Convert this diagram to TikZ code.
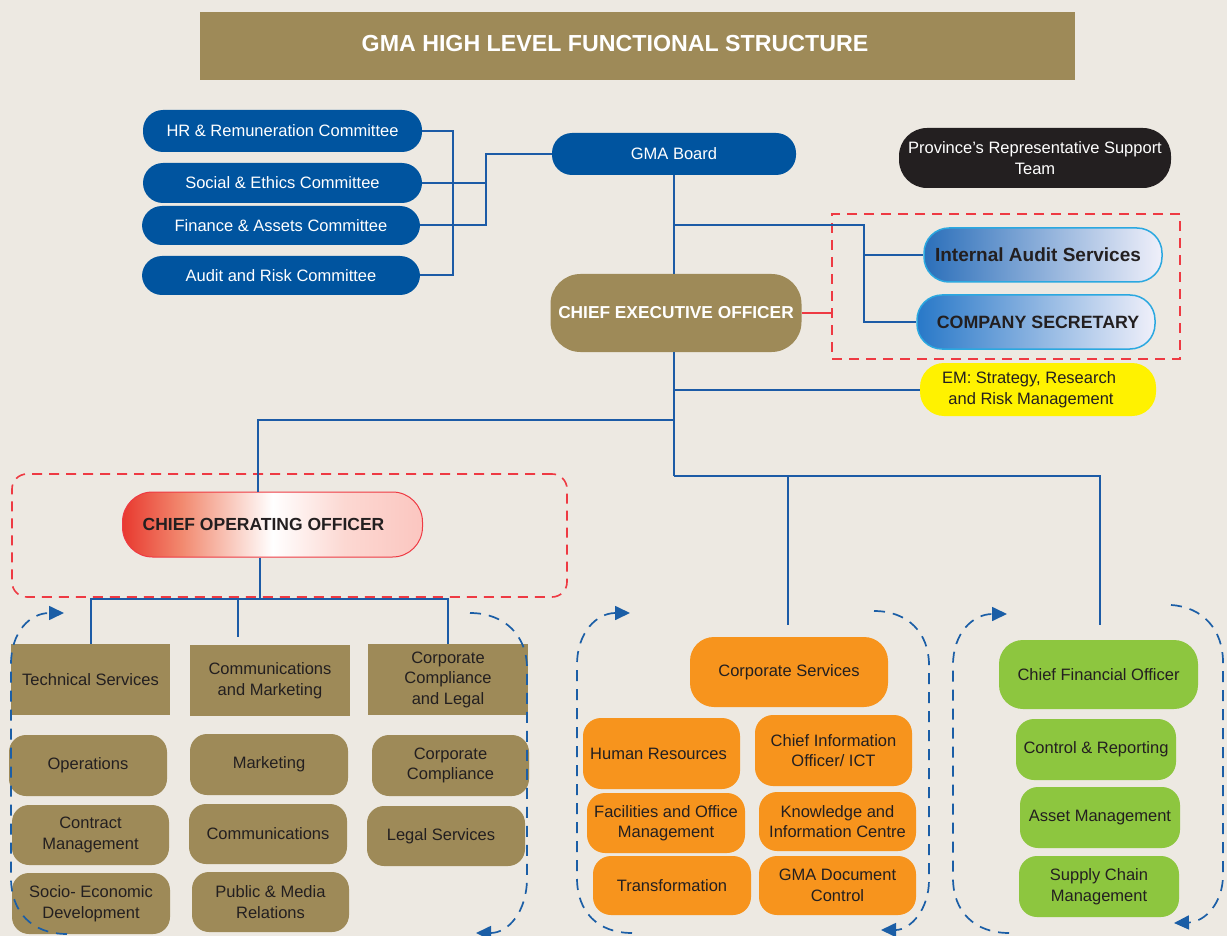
\documentclass[tikz,border=0pt]{standalone}
\usepackage{fontspec}
\setmainfont{Liberation Sans}
\usetikzlibrary{arrows.meta,calc}
\definecolor{bg}{HTML}{EDE9E2}
\definecolor{gold}{HTML}{9E8A58}
\definecolor{navy}{HTML}{00549F}
\definecolor{conn}{HTML}{1C5BA6}
\definecolor{ring}{HTML}{1B5EA6}
\definecolor{orng}{HTML}{F7941D}
\definecolor{grn}{HTML}{8DC63F}
\definecolor{yel}{HTML}{FFF200}
\definecolor{blk}{HTML}{231F20}
\definecolor{dred}{HTML}{EE3A43}
\definecolor{txt}{HTML}{231F20}
\definecolor{iasL}{HTML}{2B6FBA}
\definecolor{csL}{HTML}{2878C8}
\definecolor{iasR}{HTML}{F0F0FA}
\definecolor{iasB}{HTML}{2BA8E0}
\definecolor{cooR}{HTML}{E8392F}
\definecolor{cooS}{HTML}{F28A70}
\definecolor{cooP}{HTML}{FCD8D2}
\definecolor{cooQ}{HTML}{FBC6C0}
\pgfdeclarehorizontalshading{cooshade}{100bp}{color(0bp)=(cooR); color(25bp)=(cooR); color(35bp)=(cooS); color(50bp)=(white); color(62bp)=(cooP); color(75bp)=(cooQ); color(100bp)=(cooQ)}
\newcommand{\myfs}{\fontsize{16.5}{20.5}\selectfont}
\newcommand{\mybf}{\fontsize{17}{20}\selectfont\bfseries}
\newcommand{\mytitle}{\fontsize{23.2}{27}\selectfont\bfseries}
\tikzset{
  sz/.style 2 args={minimum width=#1pt, minimum height=#2pt},
  base/.style={inner sep=0pt, align=center, font=\myfs, text=txt},
  navybox/.style={base, fill=navy, text=white, rounded corners=20pt},
  goldrect/.style={base, fill=gold},
  goldbox/.style={base, fill=gold, rounded corners=17pt},
  orbox/.style={base, fill=orng, rounded corners=18pt},
  grbox/.style={base, fill=grn, rounded corners=18pt},
  gradbox/.style={base, font=\mybf, left color=iasL, right color=iasR, draw=iasB, line width=1.5pt, rounded corners=25pt},
  conn/.style={draw=conn, line width=2pt},
  redl/.style={draw=dred, line width=1.6pt},
  reddash/.style={draw=dred, line width=1.6pt, dash pattern=on 10pt off 7pt, inner sep=0pt},
  ringl/.style={draw=ring, line width=1.7pt, dash pattern=on 11pt off 8pt},
  ringa/.style={ringl, -{Triangle[length=15pt,width=14pt]}},
}
\begin{document}
\begin{tikzpicture}[x=1pt,y=-1pt]
\fill[bg] (0,0) rectangle (1227,936);
\useasboundingbox (0,0) rectangle (1227,936);

% dashed frames
\node[reddash, sz={348}{145}] (abox) at (1006,286.5) {};
\node[reddash, rounded corners=15pt, sz={555}{123}] (cbox) at (289.5,535.5) {};

% title
\node[goldrect, sz={875}{68}] (title) at (637.5,46) {};
\node[base, font=\mytitle, text=white] (titletext) at (615,44) {GMA HIGH LEVEL FUNCTIONAL STRUCTURE};

% committees and board
\node[navybox, sz={279}{42}] (hr) at (282.5,131) {HR \& Remuneration Committee};
\node[navybox, sz={279}{40}] (soc) at (282.5,183) {Social \& Ethics Committee};
\node[navybox, sz={278}{39}] (fin) at (281,225.5) {Finance \& Assets Committee};
\node[navybox, sz={278}{39}] (aud) at (281,275.5) {Audit and Risk Committee};
\node[navybox, sz={244}{42}] (board) at (674,154) {GMA Board};
\node[base, fill=blk, text=white, rounded corners=28pt, sz={272}{60}] (prov) at (1035,158) {Province’s Representative Support\\Team};

% CEO level
\node[base, fill=gold, text=white, font=\fontsize{17.3}{20}\selectfont\bfseries, rounded corners=30pt, sz={251}{78}] (ceo) at (676,313) {CHIEF EXECUTIVE OFFICER};
\node[gradbox, sz={238}{54}, font=\fontsize{19}{22}\selectfont\bfseries] (ias) at (1043,255) {\hspace*{-10pt}Internal Audit Services};
\node[gradbox, sz={238}{54}, font=\fontsize{17.8}{21}\selectfont\bfseries, left color=csL] (cs) at (1036,322) {\hspace*{4pt}COMPANY SECRETARY};
\node[base, fill=yel, rounded corners=24pt, sz={236}{53}] (em) at (1038,389.5) {\hspace*{-18pt}EM: Strategy, Research\\\hspace*{-14pt}and Risk Management};

% COO
\node[base, font=\fontsize{17.5}{20}\selectfont\bfseries, shading=cooshade, draw=dred, line width=1pt, rounded corners=30pt, sz={300}{65}] (coo) at (272.5,524.5) {\hspace*{-18pt}CHIEF OPERATING OFFICER};

% COO units
\node[goldrect, sz={159}{71}] (ts) at (90.5,679.5) {Technical Services};
\node[goldrect, sz={160}{71}] (cm) at (270,680.5) {Communications\\and Marketing};
\node[goldrect, sz={160}{71}] (ccl) at (448,679.5) {Corporate\\Compliance\\and Legal};
\node[goldbox, sz={158}{61}] (ops) at (88,765.5) {Operations};
\node[goldbox, sz={157}{60}] (con) at (90.5,835) {Contract\\Management};
\node[goldbox, sz={158}{61}] (sed) at (91,903.5) {Socio- Economic\\Development};
\node[goldbox, sz={158}{61}] (mkt) at (269,764.5) {Marketing};
\node[goldbox, sz={158}{60}] (com) at (268,834) {Communications};
\node[goldbox, sz={157}{60}] (pmr) at (270.5,902) {Public \& Media\\Relations};
\node[goldbox, sz={157}{61}] (cc) at (450.5,765.5) {Corporate\\Compliance};
\node[goldbox, sz={158}{60}] (ls) at (446,836) {\hspace*{-10pt}Legal Services};

% corporate services
\node[orbox, rounded corners=24pt, sz={198}{70}] (corp) at (789,672) {Corporate Services};
\node[orbox, sz={157}{71}] (hres) at (661.5,753.5) {\hspace*{-6pt}Human Resources};
\node[orbox, sz={157}{71}] (cio) at (833.5,750.5) {Chief Information\\Officer/ ICT};
\node[orbox, sz={158}{60}] (fac) at (666,823) {Facilities and Office\\Management};
\node[orbox, sz={157}{59}] (kic) at (837.5,821.5) {Knowledge and\\Information Centre};
\node[orbox, sz={158}{59}] (trans) at (672,885.5) {Transformation};
\node[orbox, sz={157}{59}] (gdc) at (837.5,885.5) {GMA Document\\Control};

% finance
\node[grbox, rounded corners=24pt, sz={199}{69}] (cfo) at (1098.5,674.5) {Chief Financial Officer};
\node[grbox, sz={160}{61}] (crep) at (1096,749.5) {Control \& Reporting};
\node[grbox, sz={160}{61}] (am) at (1100,817.5) {Asset Management};
\node[grbox, sz={160}{61}] (scm) at (1099,886.5) {Supply Chain\\Management};

% connectors
\draw[conn] (hr.east) -- ++(31,0) |- (aud.east);
\coordinate (jb) at (486,154);
\draw[conn] (soc.east) -| (jb) -- (board.west);
\draw[conn] (fin.east) -| (jb);
\draw[conn] (board.south) -- (board.south |- ceo.north);
\coordinate (ja) at (864,225);
\draw[conn] (board.south |- ja) -- (ja) |- (cs.west);
\draw[conn] (ja |- ias.west) -- (ias.west);
\draw[redl] (ceo.east) -- (ceo.east -| abox.west);
\coordinate (jc) at (674,476);
\draw[conn] (ceo.south -| jc) -- (jc);
\draw[conn] (jc |- em.west) -- (em.west);
\coordinate (jd) at (258,420);
\draw[conn] (jc |- jd) -- (jd) -- (jd |- coo.north);
\coordinate (je) at (788,625);
\coordinate (jf) at (1100,625);
\draw[conn] (jc) -| (je);
\draw[conn] (jc) -| (jf);
\coordinate (jg) at (260,599);
\draw[conn] (coo.south -| jg) -- (jg);
\draw[conn] (ts.north) |- (jg) -| (ccl.north);
\coordinate (jh) at (238,637);
\draw[conn] (jh |- jg) -- (jh);

% dashed rings
\draw[ringa] (67,934) .. controls (32,934) and (11,912) .. (11,878) -- (11,664) .. controls (11,632) and (30,613) .. (64,613);
\draw[ringa] (470,613) .. controls (505,613) and (527,636) .. (527,668) -- (527,878) .. controls (527,912) and (508,933) .. (476,933);
\draw[ringa] (632,933) .. controls (598,933) and (577,912) .. (577,878) -- (577,665) .. controls (577,632) and (597,613) .. (630,613);
\draw[ringa] (874,611) .. controls (908,611) and (929,633) .. (929,665) -- (929,880) .. controls (929,910) and (910,930) .. (881,930);
\draw[ringa] (1009,933) .. controls (975,933) and (953,912) .. (953,878) -- (953,665) .. controls (953,633) and (973,614) .. (1007,614);
\draw[ringa] (1171,605) .. controls (1203,607) and (1223,630) .. (1223,662) -- (1223,875) .. controls (1223,903) and (1205,922) .. (1174,923);
\end{tikzpicture}
\end{document}
